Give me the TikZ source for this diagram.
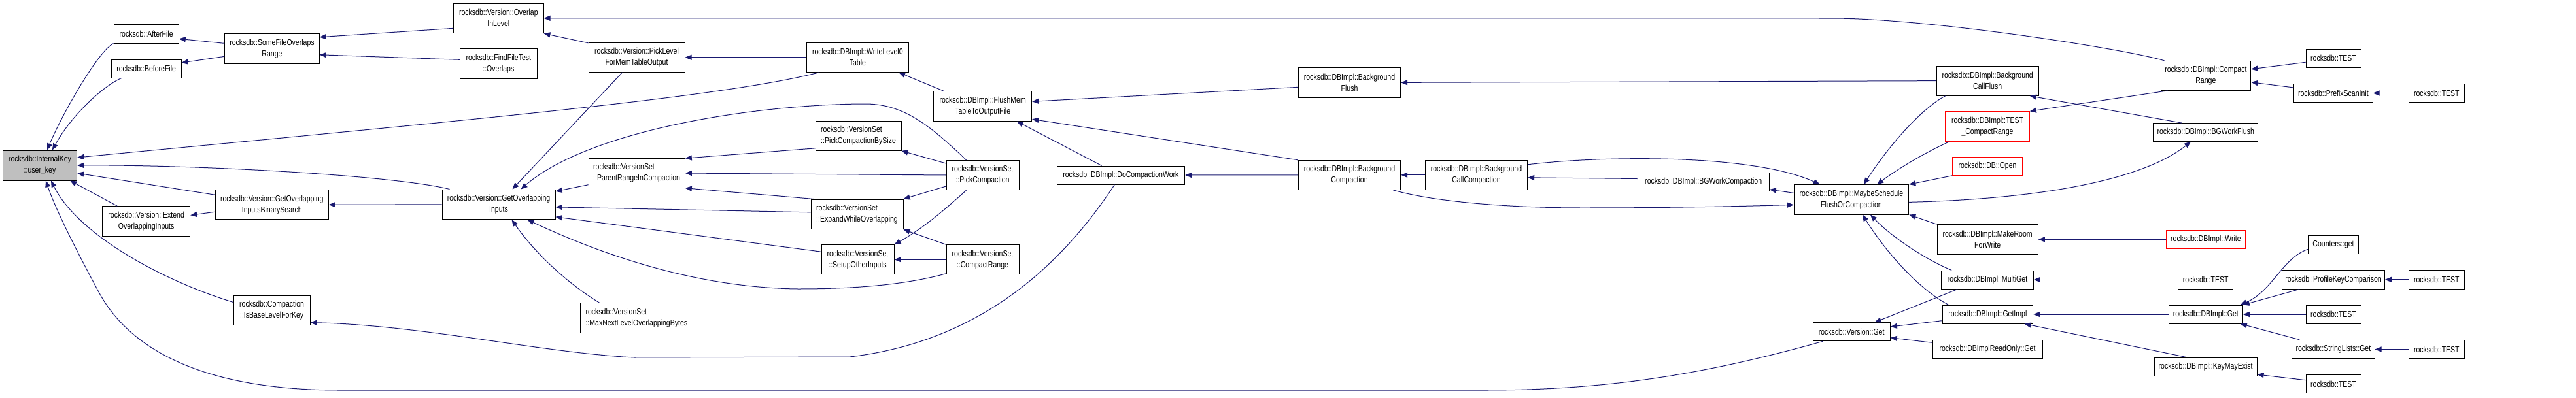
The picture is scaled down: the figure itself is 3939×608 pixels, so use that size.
\documentclass[tikz,border=0pt]{standalone}
\usepackage{fontspec}
\setmainfont{Liberation Sans}[FakeStretch=0.81]
\usetikzlibrary{arrows.meta}
\definecolor{mblue}{RGB}{25,25,112}
\definecolor{rootgray}{RGB}{191,191,191}
\tikzset{
 fn/.style={draw=black, line width=1pt, fill=white, inner sep=0pt, align=center, font=\fontsize{13}{17}\selectfont},
 rootfn/.style={fill=rootgray},
 redfn/.style={draw=red},
 lft/.style={align=left},
 cg/.style={draw=mblue, line width=1pt, -{Triangle[length=10pt,width=8pt]}},
}
\newcommand\mkbox[7][]{%
  \pgfmathsetmacro\bxc{(#3+#5)/2}%
  \pgfmathsetmacro\byc{(#4+#6)/2}%
  \pgfmathsetmacro\bxw{#5-#3}%
  \pgfmathsetmacro\byh{#6-#4}%
  \node[fn,#1,minimum width=\bxw pt,minimum height=\byh pt] (#2) at (\bxc,\byc) {#7};}
\begin{document}
\begin{tikzpicture}[x=1pt,y=-1pt]
\useasboundingbox[fill=white] (0,0) rectangle (3939,608);
% nodes
\mkbox[rootfn]{uk}{4.3}{230}{117.7}{276}{rocksdb::InternalKey\\::user\_key}
\mkbox{after}{174}{37.7}{273.3}{66}{rocksdb::AfterFile}
\mkbox{before}{170.3}{91}{277}{119}{rocksdb::BeforeFile}
\mkbox{somefile}{343.7}{51.7}{488.3}{97}{rocksdb::SomeFileOverlaps\\Range}
\mkbox{binsearch}{329.3}{290.7}{502.3}{335.7}{rocksdb::Version::GetOverlapping\\InputsBinarySearch}
\mkbox{extend}{156.7}{315.7}{290.7}{361}{rocksdb::Version::Extend\\OverlappingInputs}
\mkbox{isbase}{357.3}{452}{474}{497}{rocksdb::Compaction\\::IsBaseLevelForKey}
\mkbox{overlapin}{693.7}{5}{831}{50.7}{rocksdb::Version::Overlap\\InLevel}
\mkbox{findfile}{703.7}{74.7}{821}{120}{rocksdb::FindFileTest\\::Overlaps}
\mkbox{picklevel}{900}{65.3}{1047}{110.3}{rocksdb::Version::PickLevel\\ForMemTableOutput}
\mkbox{getoverlap}{676}{290}{849}{335.7}{rocksdb::Version::GetOverlapping\\Inputs}
\mkbox[lft]{parentrange}{900}{242.7}{1047.3}{287.3}{rocksdb::VersionSet\\::ParentRangeInCompaction}
\mkbox[lft]{maxnext}{887}{463.7}{1059.7}{509.3}{rocksdb::VersionSet\\::MaxNextLevelOverlappingBytes}
\mkbox{writel0}{1233}{65.3}{1389.7}{110.3}{rocksdb::DBImpl::WriteLevel0\\Table}
\mkbox[lft]{bysize}{1247}{185.3}{1378}{230.3}{rocksdb::VersionSet\\::PickCompactionBySize}
\mkbox[lft]{expand}{1240}{305}{1381}{350.7}{rocksdb::VersionSet\\::ExpandWhileOverlapping}
\mkbox{setup}{1256}{374.7}{1367}{419.7}{rocksdb::VersionSet\\::SetupOtherInputs}
\mkbox{flushmem}{1427.7}{139.7}{1577.7}{185}{rocksdb::DBImpl::FlushMem\\TableToOutputFile}
\mkbox{pickcomp}{1447}{245.3}{1558}{290.7}{rocksdb::VersionSet\\::PickCompaction}
\mkbox{vscompact}{1447}{374.7}{1558}{419.7}{rocksdb::VersionSet\\::CompactRange}
\mkbox{docomp}{1616}{254}{1811.7}{282}{rocksdb::DBImpl::DoCompactionWork}
\mkbox{bgflush}{1985.3}{103.7}{2141.7}{149}{rocksdb::DBImpl::Background\\Flush}
\mkbox{bgcomp}{1985.3}{245.3}{2141.7}{290.3}{rocksdb::DBImpl::Background\\Compaction}
\mkbox{bgcallcomp}{2179.3}{245.3}{2335.7}{290.3}{rocksdb::DBImpl::Background\\CallCompaction}
\mkbox{bgworkcomp}{2504}{264.7}{2705.3}{292.3}{rocksdb::DBImpl::BGWorkCompaction}
\mkbox{maybe}{2743.3}{282.7}{2918.7}{328}{rocksdb::DBImpl::MaybeSchedule\\FlushOrCompaction}
\mkbox{bgcallflush}{2961}{101}{3117.3}{146.3}{rocksdb::DBImpl::Background\\CallFlush}
\mkbox[redfn]{testcr}{2974.7}{170.7}{3103.3}{216}{rocksdb::DBImpl::TEST\\\_CompactRange}
\mkbox[redfn]{dbopen}{2985.7}{240.3}{3092.3}{268.3}{rocksdb::DB::Open}
\mkbox{makeroom}{2962}{343.7}{3116.3}{389}{rocksdb::DBImpl::MakeRoom\\ForWrite}
\mkbox{multiget}{2968.7}{414}{3109.3}{442}{rocksdb::DBImpl::MultiGet}
\mkbox{getimpl}{2970}{467}{3108.7}{495}{rocksdb::DBImpl::GetImpl}
\mkbox{vget}{2772}{493.7}{2890.3}{521.7}{rocksdb::Version::Get}
\mkbox{rovget}{2955}{520.3}{3123}{548.3}{rocksdb::DBImplReadOnly::Get}
\mkbox{dbcompact}{3304}{93.3}{3441.7}{138.3}{rocksdb::DBImpl::Compact\\Range}
\mkbox{bgworkflush}{3292.7}{188.7}{3452.7}{216.3}{rocksdb::DBImpl::BGWorkFlush}
\mkbox{testA}{3526}{75.3}{3610}{103.3}{rocksdb::TEST}
\mkbox{prefix}{3507.7}{128.7}{3628}{156.3}{rocksdb::PrefixScanInit}
\mkbox{testB}{3683.3}{128.7}{3768.3}{156.3}{rocksdb::TEST}
\mkbox[redfn]{dbwrite}{3312.7}{352.3}{3433}{380.7}{rocksdb::DBImpl::Write}
\mkbox{testC}{3330.7}{414}{3414.7}{442}{rocksdb::TEST}
\mkbox{dbget}{3316.3}{467}{3429.3}{495}{rocksdb::DBImpl::Get}
\mkbox{keymay}{3294.3}{547}{3451}{575}{rocksdb::DBImpl::KeyMayExist}
\mkbox{counters}{3529.3}{360.3}{3606.7}{388.7}{Counters::get}
\mkbox{profile}{3489.7}{413.7}{3646.3}{442}{rocksdb::ProfileKeyComparison}
\mkbox{testD}{3526}{467}{3610}{495}{rocksdb::TEST}
\mkbox{strlists}{3504.7}{520.3}{3631}{548.7}{rocksdb::StringLists::Get}
\mkbox{testE}{3526}{573.7}{3610}{601.7}{rocksdb::TEST}
\mkbox{testF}{3683.3}{413.7}{3768.3}{442}{rocksdb::TEST}
\mkbox{testG}{3683.3}{520.3}{3768.3}{548.7}{rocksdb::TEST}
% edges
\draw[cg] (after.south west) .. controls (150,78) and (95,175) .. ([xshift=11pt]uk.north);
\draw[cg] ([xshift=16pt]before.south west) .. controls (160,130) and (110,175) .. ([xshift=19pt]uk.north);
\draw[cg] ([xshift=20pt]writel0.south west) .. controls (1100,150) and (700,185) .. ([yshift=12pt]uk.east);
\draw[cg] ([xshift=12pt]getoverlap.north west) .. controls (600,268) and (300,252) .. (uk.east);
\draw[cg] ([yshift=15pt]binsearch.west) -- ([yshift=-12pt]uk.east);
\draw[cg] ([xshift=23pt]extend.north west) -- ([xshift=-11pt]uk.south east);
\draw[cg] ([yshift=12pt]isbase.west) .. controls (250,430) and (120,360) .. ([xshift=17pt]uk.south);
\draw[cg] ([xshift=16pt]vget.south west) .. controls (2600,575) and (2450,597) .. (2270,597) -- (520,597) .. controls (320,597) and (200,540) .. (150,445) .. controls (115,380) and (85,320) .. ([xshift=9pt]uk.south);
\draw[cg] ([yshift=8pt]somefile.west) -- ([yshift=-7.5pt]after.east);
\draw[cg] ([yshift=-12pt]somefile.west) -- ([yshift=9pt]before.east);
\draw[cg] ([yshift=-15.5pt]overlapin.west) -- ([yshift=17.6pt]somefile.east);
\draw[cg] ([yshift=6pt]findfile.west) -- ([yshift=-9.4pt]somefile.east);
\draw[cg] ([yshift=-1pt]picklevel.north west) -- (overlapin.south east);
\draw[cg] ([xshift=52pt]picklevel.south west) -- ([xshift=21pt]getoverlap.north);
\draw[cg] (writel0.west) -- (picklevel.east);
\draw[cg] ([xshift=31pt]pickcomp.north west) .. controls (1420,190) and (1380,158) .. (1320,159) .. controls (1150,160) and (900,200) .. ([xshift=34pt]getoverlap.north);
\draw[cg] ([yshift=-17.7pt]parentrange.west) -- ([yshift=20pt]getoverlap.east);
\draw[cg] ([yshift=-19pt]bysize.west) -- (parentrange.north east);
\draw[cg] (pickcomp.west) -- (parentrange.east);
\draw[cg] ([xshift=5pt]expand.north west) -- (parentrange.south east);
\draw[cg] ([yshift=3pt]expand.west) -- ([yshift=-4pt]getoverlap.east);
\draw[cg] ([yshift=12pt]setup.west) -- ([yshift=-19pt]getoverlap.east);
\draw[cg] ([yshift=1.5pt]vscompact.south west) .. controls (1380,437) and (1300,442) .. (1220,442) .. controls (1050,440) and (900,380) .. ([xshift=44pt]getoverlap.south);
\draw[cg] ([xshift=30pt]maxnext.north west) .. controls (870,435) and (820,390) .. ([xshift=20pt]getoverlap.south);
\draw[cg] (getoverlap.west) -- (binsearch.east);
\draw[cg] ([yshift=-11pt]binsearch.west) -- ([yshift=9pt]extend.east);
\draw[cg] ([yshift=18pt]pickcomp.west) -- (bysize.south east);
\draw[cg] ([yshift=-17pt]pickcomp.west) -- (expand.north east);
\draw[cg] ([xshift=31pt]pickcomp.south west) .. controls (1440,325) and (1410,350) .. (setup.north east);
\draw[cg] (vscompact.north west) -- (expand.south east);
\draw[cg] (vscompact.west) -- (setup.east);
\draw[cg] ([xshift=15.6pt]flushmem.north west) -- ([xshift=-16pt]writel0.south east);
\draw[cg] ([yshift=-7pt]bgflush.west) -- ([yshift=7pt]flushmem.east);
\draw[cg] (bgcomp.north west) -- ([yshift=-20pt]flushmem.east);
\draw[cg] ([xshift=69pt]docomp.north west) -- ([xshift=52pt]flushmem.south);
\draw[cg] (bgcomp.west) -- (docomp.east);
\draw[cg] (bgcallcomp.west) -- (bgcomp.east);
\draw[cg] ([yshift=5pt]bgworkcomp.west) -- ([yshift=-4pt]bgcallcomp.east);
\draw[cg] ([yshift=10pt]maybe.west) -- ([yshift=-11.5pt]bgworkcomp.east);
\draw[cg] ([xshift=-12pt]bgcomp.south east) .. controls (2190,308) and (2300,318) .. (2420,318) .. controls (2550,318) and (2650,316) .. ([yshift=-8pt]maybe.west);
\draw[cg] ([yshift=-7pt]bgcallcomp.north east) .. controls (2450,238) and (2680,235) .. ([xshift=40pt]maybe.north west);
\draw[cg] (bgcallflush.west) -- (bgflush.east);
\draw[cg] ([xshift=14pt]bgcallflush.south west) .. controls (2940,165) and (2890,220) .. ([xshift=19pt]maybe.north);
\draw[cg] ([xshift=7pt]testcr.south west) .. controls (2940,235) and (2900,260) .. ([xshift=39pt]maybe.north);
\draw[cg] (dbopen.south west) -- (maybe.north east);
\draw[cg] ([yshift=-4pt]maybe.east) .. controls (3100,305) and (3270,280) .. ([xshift=-22.7pt]bgworkflush.south);
\draw[cg] ([xshift=-36pt]bgworkflush.north) -- ([xshift=-14pt]bgcallflush.south east);
\draw[cg] ([xshift=11pt]dbcompact.south west) -- (testcr.north east);
\draw[cg] ([xshift=6pt]dbcompact.north west) .. controls (3250,75) and (2950,28) .. (2800,28) -- (overlapin.east);
\draw[cg] (makeroom.north west) -- (maybe.south east);
\draw[cg] ([xshift=16pt]multiget.north west) .. controls (2940,395) and (2890,360) .. ([xshift=29pt]maybe.south);
\draw[cg] ([xshift=10pt]getimpl.north west) .. controls (2930,440) and (2880,380) .. ([xshift=17pt]maybe.south);
\draw[cg] ([xshift=25pt]multiget.south west) -- ([xshift=35.5pt]vget.north);
\draw[cg] ([yshift=-9.7pt]getimpl.west) -- ([yshift=7.7pt]vget.east);
\draw[cg] ([yshift=10pt]rovget.west) -- ([yshift=-9pt]vget.east);
\draw[cg] (dbwrite.west) -- (makeroom.east);
\draw[cg] (testC.west) -- (multiget.east);
\draw[cg] (dbget.west) -- (getimpl.east);
\draw[cg] ([xshift=49pt]keymay.north west) -- ([xshift=-13.7pt]getimpl.south east);
\draw[cg] ([yshift=-7pt]counters.west) .. controls (3490,395) and (3475,445) .. ([xshift=-4pt]dbget.north east);
\draw[cg] ([xshift=27pt]profile.south west) -- (dbget.north east);
\draw[cg] (testD.west) -- (dbget.east);
\draw[cg] ([xshift=12pt]strlists.north west) -- ([xshift=-4pt]dbget.south east);
\draw[cg] ([yshift=6pt]testE.west) -- ([yshift=-12pt]keymay.east);
\draw[cg] (testF.west) -- (profile.east);
\draw[cg] (testG.west) -- (strlists.east);
\draw[cg] ([yshift=-6pt]testA.west) -- ([yshift=10pt]dbcompact.east);
\draw[cg] ([yshift=8.5pt]prefix.west) -- ([yshift=-10pt]dbcompact.east);
\draw[cg] (testB.west) -- (prefix.east);
\draw[cg] ([xshift=-9.5pt]docomp.south) .. controls (1640,380) and (1520,520) .. (1300,546) -- (970,547) .. controls (830,540) and (650,498) .. ([yshift=-19pt]isbase.east);
\end{tikzpicture}
\end{document}
